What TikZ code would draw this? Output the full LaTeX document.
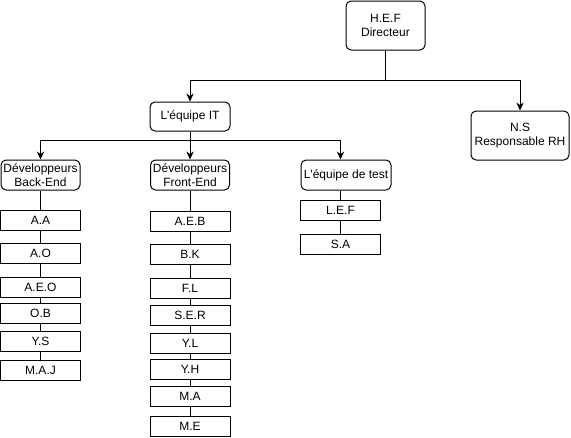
\documentclass[tikz,border=0pt]{standalone}
\usepackage{fontspec}
\setmainfont{Liberation Sans}
\usetikzlibrary{arrows.meta, positioning}

\begin{document}
\begin{tikzpicture}[x=0.75pt,y=0.75pt,yscale=-1,xscale=1,
  chef/.style={draw, rounded corners=3.75pt, line width=0.75pt, align=center, inner sep=0pt, font=\fontsize{9}{10}\selectfont},
  membre/.style={draw, line width=0.75pt, minimum width=60pt, minimum height=15pt, inner sep=0pt, font=\fontsize{9}{10}\selectfont},
  lien/.style={line width=0.75pt},
  fleche/.style={line width=0.75pt, -{Stealth[length=6pt,width=5.5pt]}}]
\useasboundingbox (0,0) rectangle (571,437);

%Rounded Rect
\node[chef, minimum width=59.25pt, minimum height=36.75pt] (hef) at (385.5,25.5) {H.E.F\\Directeur};
%Rounded Rect
\node[chef, minimum width=60pt, minimum height=21.75pt] (it) at (190,116.5) {L\textquotesingle équipe IT};
%Rounded Rect
\node[chef, minimum width=73.5pt, minimum height=36.75pt] (ns) at (520,135.5) {N.S\\Responsable RH};
%Rounded Rect
\node[chef, minimum width=59.25pt, minimum height=22.5pt] (back) at (40.5,175) {Développeurs\\Back-End};
%Rounded Rect
\node[chef, minimum width=59.25pt, minimum height=22.5pt] (front) at (190,175) {Développeurs\\Front-End};
%Rounded Rect
\node[chef, minimum width=67.5pt, minimum height=22.5pt] (test) at (346,175) {L\textquotesingle équipe de test};

%Shape: Rectangle
\node[membre] (aa) at (40.5,220) {A.A};
\node[membre] (ao) at (40.5,253) {A.O};
\node[membre] (aeo) at (40.5,287) {A.E.O};
\node[membre] (ob) at (40.5,313) {O.B};
\node[membre] (ys) at (40.5,341) {Y.S};
\node[membre] (maj) at (40.5,370) {M.A.J};
%Shape: Rectangle
\node[membre] (aeb) at (190,221) {A.E.B};
\node[membre] (bk) at (190,254) {B.K};
\node[membre] (fl) at (190,288) {F.L};
\node[membre] (ser) at (190,315) {S.E.R};
\node[membre] (yl) at (190,343) {Y.L};
\node[membre] (yh) at (190,369) {Y.H};
\node[membre] (ma) at (190,396) {M.A};
\node[membre] (me) at (190,426) {M.E};
%Shape: Rectangle
\node[membre] (lef) at (340.5,210) {L.E.F};
\node[membre] (sa) at (340.5,244) {S.A};

%Connector
\coordinate (c1) at (385.5,80);
\draw[lien] (hef.south) -- (c1);
\draw[fleche] (c1) -| (it.north);
\draw[fleche] (c1) -| (ns.north);
%Connector
\coordinate (c2) at (190,140);
\draw[lien] (it.south) -- (c2);
\draw[fleche] (c2) -| (back.north);
\draw[fleche] (c2) -- (front.north);
\draw[fleche] (c2) -| (lef.north |- test.north);
%Straight Lines
\draw[lien] (back) -- (aa) -- (ao) -- (aeo) -- (ob) -- (ys) -- (maj);
\draw[lien] (front) -- (aeb) -- (bk) -- (fl) -- (ser) -- (yl) -- (yh) -- (ma) -- (me);
\draw[lien] (lef.north |- test.south) -- (lef) -- (sa);

\end{tikzpicture}
\end{document}
